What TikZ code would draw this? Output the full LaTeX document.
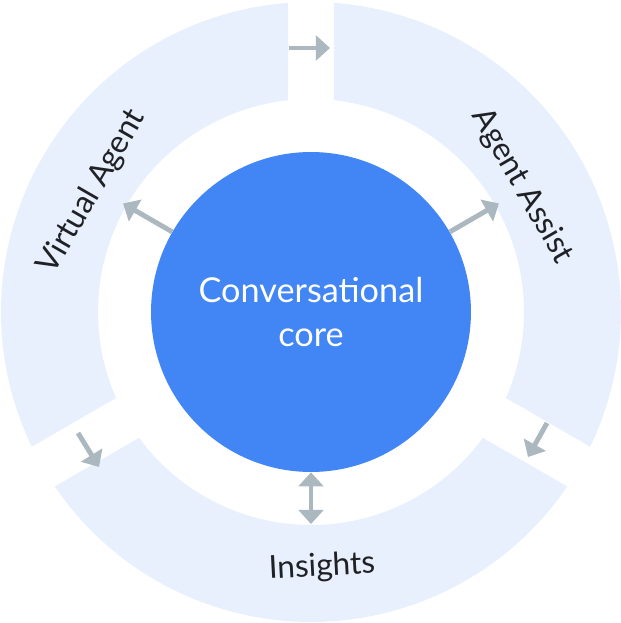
\documentclass[tikz,border=0pt]{standalone}
\usepackage{fontspec}
\setmainfont{Lato}
\usepackage{tikz}
\usepackage{xcolor}
\usetikzlibrary{arrows.meta,calc,positioning}
\definecolor{ringblue}{HTML}{E8F0FE}
\definecolor{coreblue}{HTML}{4285F4}
\definecolor{arrowgrey}{HTML}{ABB8BF}
\definecolor{inkgrey}{HTML}{202124}

\begin{document}
\begin{tikzpicture}[
          x=0.02cm, y=0.02cm,
          every node/.style={font=\fontsize{18}{22}\selectfont, text=inkgrey},
          ring/.style={fill=ringblue},
          core/.style={circle, fill=coreblue, minimum size=6.4cm, inner sep=0pt, align=center,
                       text=white, font=\fontsize{19.5}{25}\selectfont},
          flow/.style={arrowgrey, line width=2.8pt, -{Triangle[length=8pt, width=14pt]}},
          flowboth/.style={flow, {Triangle[length=8pt, width=14pt]}-{Triangle[length=8pt, width=14pt]}}
      ]
        \useasboundingbox (-311,-311) rectangle (310,312);

        \fill[ring] (94.25:310) arc[start angle=94.25, end angle=205.75, radius=310]
              -- (203.8:213) arc[start angle=203.8, end angle=96.2, radius=213] -- cycle;
        \fill[ring] (-25.75:310) arc[start angle=-25.75, end angle=85.75, radius=310]
              -- (83.8:213) arc[start angle=83.8, end angle=-23.8, radius=213] -- cycle;
        \fill[ring] (214.25:310) arc[start angle=214.25, end angle=325.75, radius=310]
              -- (323.8:213) arc[start angle=323.8, end angle=216.2, radius=213] -- cycle;

        \node[core] (core) at (0,0) {Conversational\\core};

        \node[rotate=60] (virtual) at (-219,120) {Virtual Agent};
        \node[rotate=-60] (assist) at (211,126) {Agent Assist};
        \node[rotate=3] (insights) at (11,-255) {Insights};

        \coordinate (va-in) at (150:217);
        \coordinate (aa-in) at (30:217);
        \coordinate (in-in) at (270:212);

        \coordinate (top-a) at (-22,264);
        \coordinate (top-b) at (19,264);
        \coordinate (right-a) at (236,-111);
        \coordinate (right-b) at (217,-145);
        \coordinate (left-a) at (-233,-121);
        \coordinate (left-b) at (-212,-155);

        \draw[flow] (core.150) -- (va-in);
        \draw[flow] (core.30) -- (aa-in);
        \draw[flowboth] (core.270) -- (in-in);

        \draw[flow] (top-a) -- (top-b);
        \draw[flow] (right-a) -- (right-b);
        \draw[flow] (left-a) -- (left-b);
      \end{tikzpicture}
\end{document}
